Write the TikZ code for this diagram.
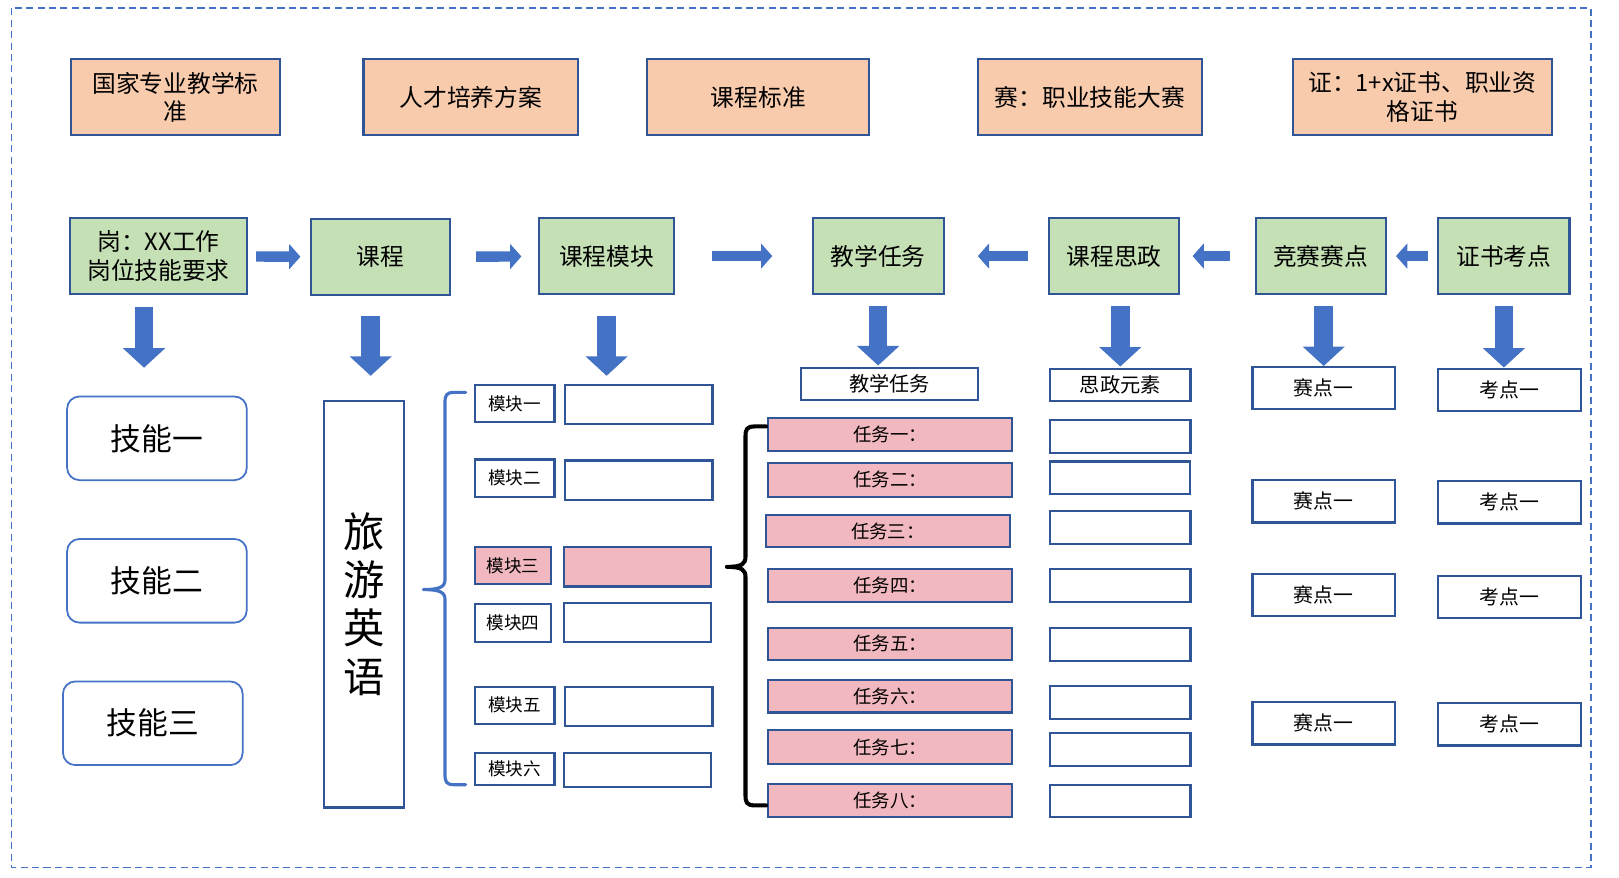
\documentclass[tikz,border=0pt]{standalone}
\usepackage{fontspec}
\setmainfont{Noto Sans CJK SC}
\usetikzlibrary{arrows.meta}
\newcommand{\pxu}{0.02065cm}
\definecolor{frameblue}{HTML}{4472C4}
\definecolor{edgeblue}{HTML}{2F5597}
\definecolor{topfill}{HTML}{F8CBAD}
\definecolor{rowfill}{HTML}{C5E0B4}
\definecolor{pinkfill}{HTML}{F2B8BF}
\begin{document}
\begin{tikzpicture}[x=\pxu, y=-\pxu,
	topbox/.style={draw=edgeblue, fill=topfill, line width=1.2pt, inner sep=0pt, align=center, minimum height=74*\pxu, font=\fontsize{13.5}{16}\selectfont},
	rowbox/.style={draw=edgeblue, fill=rowfill, line width=1.2pt, inner sep=0pt, align=center, minimum height=74*\pxu, font=\fontsize{13.5}{16.4}\selectfont},
	skillbox/.style={draw=frameblue, line width=1pt, rounded corners=7pt, minimum width=174*\pxu, minimum height=81*\pxu, font=\fontsize{17.5}{20}\selectfont},
	modbox/.style={draw=edgeblue, line width=1.2pt, inner sep=0pt, minimum height=36*\pxu, font=\fontsize{10}{12}\selectfont},
	blankbox/.style={draw=edgeblue, line width=1.2pt, inner sep=0pt, minimum width=143*\pxu, minimum height=38*\pxu},
	headbox/.style={draw=edgeblue, line width=1.2pt, inner sep=0pt, minimum height=31*\pxu, font=\fontsize{11.5}{13}\selectfont},
	taskbox/.style={draw=edgeblue, fill=pinkfill, line width=1.2pt, inner sep=0pt, minimum width=236*\pxu, minimum height=32*\pxu, font=\fontsize{10.5}{12}\selectfont},
	szbox/.style={draw=edgeblue, line width=1.2pt, inner sep=0pt, minimum width=136*\pxu, minimum height=32*\pxu},
	pointbox/.style={draw=edgeblue, line width=1.2pt, inner sep=0pt, minimum width=138*\pxu, minimum height=41*\pxu, font=\fontsize{11.3}{13}\selectfont},
	harrow/.style 2 args={draw=frameblue, line width=5.9pt, -{Triangle[width=14pt, length=6.4pt]}, shorten <=#1*\pxu, shorten >=#2*\pxu},
	darrow/.style 2 args={draw=frameblue, line width=10.5pt, -{Triangle[width=23.4pt, length=11.1pt]}, shorten <=#1*\pxu, shorten >=#2*\pxu},
	bracket/.style={line width=#1, line cap=round, line join=round}
]
        \useasboundingbox (0,0) rectangle (1568,850);
        \draw[frameblue, line width=0.9pt, dash pattern=on 4pt off 2.5pt] (11,8) rectangle (1541,840);

        \node[topbox, minimum width=202*\pxu] (TOP_A) at (170,94) {国家专业教学标\\准};
        \node[topbox, minimum width=208*\pxu] (TOP_B) at (456,94) {人才培养方案};
        \node[topbox, minimum width=215*\pxu] (TOP_C) at (734.5,94) {课程标准};
        \node[topbox, minimum width=217*\pxu] (TOP_D) at (1055.5,94) {赛：职业技能大赛};
        \node[topbox, minimum width=251*\pxu] (TOP_E) at (1377.5,94) {证：1+x证书、职业资\\格证书};

        \node[rowbox, minimum width=171*\pxu] (ROW_A) at (153.5,248) {岗：XX工作\\岗位技能要求};
        \node[rowbox, minimum width=135*\pxu] (ROW_B) at (368.5,249) {课程};
        \node[rowbox, minimum width=131*\pxu] (ROW_C) at (587.5,248) {课程模块};
        \node[rowbox, minimum width=127*\pxu] (ROW_D) at (850.5,248) {教学任务};
        \node[rowbox, minimum width=126*\pxu] (ROW_E) at (1079,248) {课程思政};
        \node[rowbox, minimum width=126*\pxu] (ROW_F) at (1279,248) {竞赛赛点};
        \node[rowbox, minimum width=127*\pxu] (ROW_G) at (1456.5,248) {证书考点};

        \draw[harrow={8}{9}] (ROW_A) -- (ROW_B);
        \draw[harrow={24}{16}] (ROW_B) -- (ROW_C);
        \draw[harrow={36}{38}] (ROW_C) -- (ROW_D);
        \draw[harrow={19}{32}] (ROW_E) -- (ROW_D);
        \draw[harrow={24}{12}] (ROW_F) -- (ROW_E);
        \draw[harrow={9}{9}] (ROW_G) -- (ROW_F);

        \node[skillbox] (SKILL_A) at (152,424.5) {技能一};
        \node[skillbox] (SKILL_B) at (152,562.5) {技能二};
        \node[skillbox] (SKILL_C) at (148,700.5) {技能三};

        \node[draw=edgeblue, line width=1.2pt, minimum width=77*\pxu, minimum height=394*\pxu, align=center, font=\fontsize{23.5}{27.5}\selectfont] (COURSE) at (352.5,585) {旅\\游\\英\\语};

        \node[modbox, minimum width=77*\pxu] (MOD_A) at (498.5,391) {模块一};
        \node[modbox, minimum width=77*\pxu] (MOD_B) at (498.5,463) {模块二};
        \node[modbox, minimum width=74*\pxu, fill=pinkfill] (MOD_C) at (497,548) {模块三};
        \node[modbox, minimum width=74*\pxu, minimum height=37*\pxu] (MOD_D) at (497,603.5) {模块四};
        \node[modbox, minimum width=77*\pxu] (MOD_E) at (498.5,683) {模块五};
        \node[modbox, minimum width=77*\pxu, minimum height=31*\pxu] (MOD_F) at (498.5,744.5) {模块六};

        \node[blankbox] (MODTXT_A) at (618.5,392) {};
        \node[blankbox] (MODTXT_B) at (618.5,465) {};
        \node[blankbox, fill=pinkfill] (MODTXT_C) at (617.5,549) {};
        \node[blankbox] (MODTXT_D) at (617.5,603) {};
        \node[blankbox] (MODTXT_E) at (618.5,684) {};
        \node[blankbox, minimum height=33*\pxu] (MODTXT_F) at (617.5,745.5) {};

        \node[headbox, minimum width=171*\pxu] (TASK_HEAD) at (861.5,371.5) {教学任务};
        \node[taskbox] (TASK_A) at (862,421) {任务一：};
        \node[taskbox, minimum height=33*\pxu] (TASK_B) at (862,464.5) {任务二：};
        \node[taskbox, minimum height=31*\pxu] (TASK_C) at (860,514.5) {任务三：};
        \node[taskbox] (TASK_D) at (862,567) {任务四：};
        \node[taskbox, minimum height=31*\pxu] (TASK_E) at (862,623.5) {任务五：};
        \node[taskbox, minimum height=31*\pxu] (TASK_F) at (862,674.5) {任务六：};
        \node[taskbox, minimum height=33*\pxu] (TASK_G) at (862,723.5) {任务七：};
        \node[taskbox] (TASK_H) at (862,775) {任务八：};

        \node[headbox, minimum width=136*\pxu] (SZ_HEAD) at (1085,372.5) {思政元素};
        \node[szbox] (SZ_A) at (1085,423) {};
        \node[szbox, minimum height=31*\pxu] (SZ_B) at (1084.5,462.5) {};
        \node[szbox] (SZ_C) at (1085,511) {};
        \node[szbox] (SZ_D) at (1085,567) {};
        \node[szbox] (SZ_E) at (1085,624) {};
        \node[szbox] (SZ_F) at (1085,680) {};
        \node[szbox] (SZ_G) at (1085,726) {};
        \node[szbox, minimum height=31*\pxu] (SZ_H) at (1085,775.5) {};

        \node[pointbox] (SAI_A) at (1282,376) {赛点一};
        \node[pointbox] (SAI_B) at (1282,485.5) {赛点一};
        \node[pointbox] (SAI_C) at (1282,576.5) {赛点一};
        \node[pointbox] (SAI_D) at (1282,700.5) {赛点一};

        \node[pointbox] (KAO_A) at (1462,377.5) {考点一};
        \node[pointbox] (KAO_B) at (1462,486.5) {考点一};
        \node[pointbox] (KAO_C) at (1462,578) {考点一};
        \node[pointbox] (KAO_D) at (1462,701.5) {考点一};

        \draw[darrow={11}{27}] ([xshift=-14*\pxu]ROW_A.south) -- ([xshift=-14*\pxu]ROW_A.south |- SKILL_A.north);
        \draw[darrow={19}{23}] ([xshift=-9.5*\pxu]ROW_B.south) -- ([xshift=-9.5*\pxu]ROW_B.south |- COURSE.north);
        \draw[darrow={20}{8}] (ROW_C.south) -- (ROW_C.south |- MODTXT_A.north);
        \draw[darrow={10}{1}] (ROW_D.south) -- (ROW_D.south |- TASK_HEAD.north);
        \draw[darrow={10}{1}] (SZ_HEAD.north |- ROW_E.south) -- (SZ_HEAD.north);
        \draw[darrow={10}{0}] (SAI_A.north |- ROW_F.south) -- (SAI_A.north);
        \draw[darrow={10}{0}] (ROW_G.south) -- (ROW_G.south |- KAO_A.north);

        \coordinate (BRACE_A_TOP) at (451,380);
        \coordinate (BRACE_A_BOT) at (451,760);
        \draw[frameblue, bracket=1.8pt] (BRACE_A_TOP) -- (440,380) .. controls (432,380) and (431,383) .. (431,390)
        	-- (431,561) .. controls (431,568) and (427,571) .. (410,571) .. controls (427,571) and (431,574) .. (431,581)
        	-- (431,750) .. controls (431,757) and (432,760) .. (440,760) -- (BRACE_A_BOT);
        \coordinate (BRACE_B_TOP) at (742,413);
        \coordinate (BRACE_B_BOT) at (742,780);
        \draw[black, bracket=2.3pt] (BRACE_B_TOP) -- (731,413) .. controls (723,413) and (722,416) .. (722,423)
        	-- (722,539) .. controls (722,546) and (719,549) .. (704,549) .. controls (719,549) and (722,552) .. (722,559)
        	-- (722,770) .. controls (722,777) and (723,780) .. (731,780) -- (BRACE_B_BOT);
\end{tikzpicture}
\end{document}
